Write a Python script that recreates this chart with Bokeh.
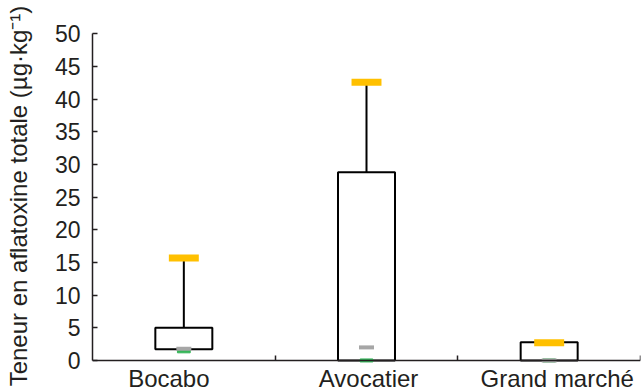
from bokeh.plotting import figure
from bokeh.models import FixedTicker, LinearAxis, Range1d, Label
from bokeh.embed import file_html
from bokeh.resources import INLINE

# ---- data ----
categories = ["Bocabo", "Avocatier", "Grand marché"]
q1 = [1.7, 0.0, 0.0]
q3 = [5.0, 28.8, 2.8]
maxima = [15.7, 42.6, 2.7]
medians = [1.8, 2.0, 0.0]
minima = [1.4, 0.0, 0.0]
y_ticks = [0, 5, 10, 15, 20, 25, 30, 35, 40, 45, 50]
y_label = "Teneur en aflatoxine totale (µg·kg⁻¹)"

# ---- styling ----
FONT = "Liberation Sans"
TXT = "#231f20"
label_shift = [-0.082, 0.011, 0.044]   # visual offset of category labels
BOX_W = 0.312
Y_PAD = 4.75   # room below zero (inside the frame) for the category labels
Y_TOP = 55.1   # room above 50 so the frame spans the whole height

xc = [i + 0.5 for i in range(len(categories))]

p = figure(width=641, height=391, output_backend="svg", toolbar_location=None,
           title=None,
           x_range=Range1d(0, len(categories)), y_range=Range1d(-Y_PAD, Y_TOP),
           x_axis_type=None, min_border_left=92, min_border_right=1,
           min_border_top=0, min_border_bottom=0)
p.outline_line_color = None
p.grid.visible = False
p.background_fill_color = "white"
p.border_fill_color = "white"

# x axis at y = 0: only separator ticks (as minor ticks)
xa = LinearAxis(ticker=FixedTicker(ticks=[], minor_ticks=[1, 2, 3]),
                fixed_location=0)
xa.major_tick_line_color = None
xa.major_label_text_font_size = "0px"
xa.minor_tick_in = 5
xa.minor_tick_out = 0
xa.minor_tick_line_width = 1.5
xa.minor_tick_line_color = TXT
xa.axis_line_color = TXT
xa.axis_line_width = 1.5
p.add_layout(xa, "below")

for c, s, name in zip(xc, label_shift, categories):
    p.add_layout(Label(x=c + s, y=0, y_offset=-18, text=name,
                       text_align="center", text_baseline="middle",
                       text_font=FONT, text_font_size="24px", text_color=TXT))

ya = p.yaxis[0]
ya.ticker = FixedTicker(ticks=y_ticks)
ya.bounds = (0, 50)
ya.major_tick_in = 5
ya.major_tick_out = 0
ya.minor_tick_line_color = None
ya.major_tick_line_width = 1.5
ya.major_tick_line_color = TXT
ya.axis_line_color = TXT
ya.axis_line_width = 1.5
ya.major_label_text_font = FONT
ya.major_label_text_font_size = "23px"
ya.major_label_text_color = TXT
ya.major_label_standoff = 12
ya.axis_label = y_label
ya.axis_label_text_font = FONT
ya.axis_label_text_font_size = "24px"
ya.axis_label_text_font_style = "normal"
ya.axis_label_text_color = TXT
ya.axis_label_standoff = 20

# whiskers
p.segment(x0=xc, y0=q3, x1=xc, y1=maxima, line_color="black", line_width=2)
# boxes
p.quad(left=[c - BOX_W / 2 for c in xc], right=[c + BOX_W / 2 for c in xc],
       bottom=q1, top=q3, fill_color="white", line_color="black", line_width=2)
# markers
p.rect(x=xc, y=minima, width=0.07, height=3, height_units="screen",
       fill_color="#35b558", line_color="#35b558")
p.rect(x=xc, y=medians, width=0.082, height=4, height_units="screen",
       fill_color="#a6a6a6", line_color=None)
p.rect(x=xc, y=maxima, width=0.164, height=7, height_units="screen",
       fill_color="#ffc000", line_color=None)

open("out.html", "w").write(file_html(p, INLINE))
